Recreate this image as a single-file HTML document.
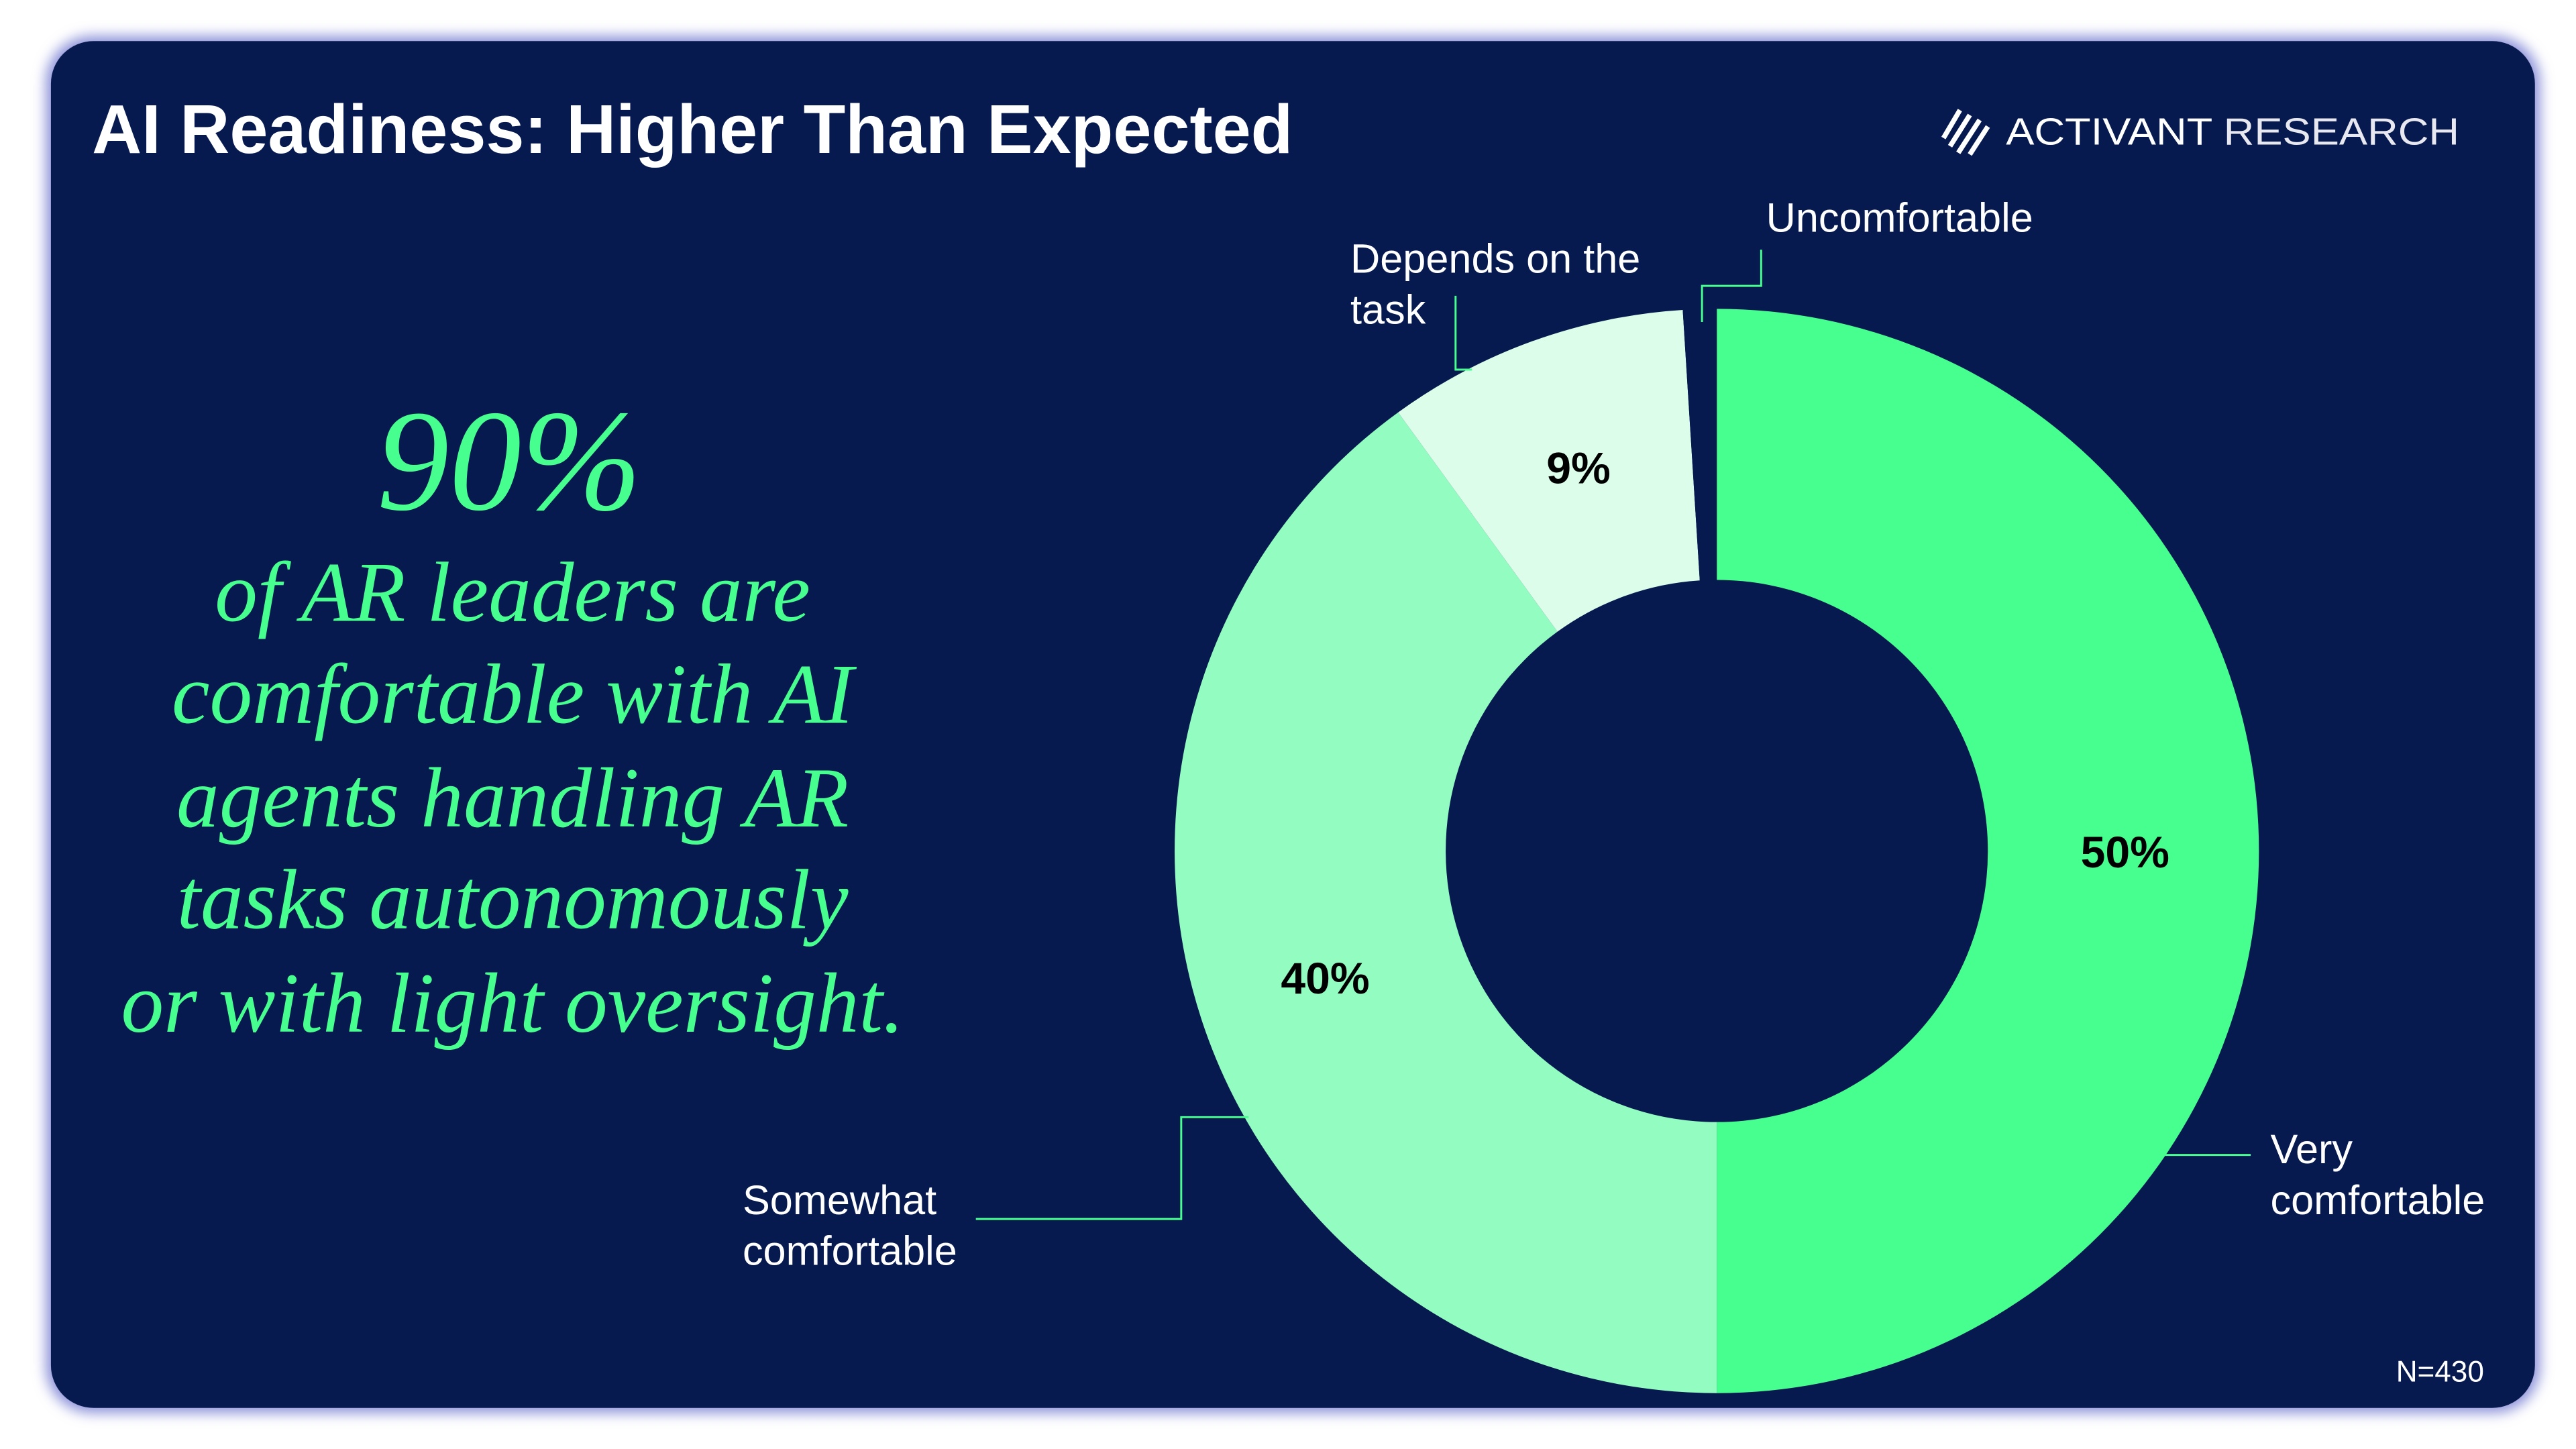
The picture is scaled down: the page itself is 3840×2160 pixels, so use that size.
<!DOCTYPE html>
<html><head><meta charset="utf-8">
<style>
html,body{margin:0;padding:0;background:#fff;width:3840px;height:2160px;overflow:hidden}
svg{display:block}
</style></head>
<body>
<svg id="chart" width="3840" height="2160" viewBox="0 0 1568 882" xmlns="http://www.w3.org/2000/svg">
<defs>
<filter id="glow" x="-5%" y="-5%" width="110%" height="110%"><feGaussianBlur stdDeviation="4"/></filter>
</defs>
<rect x="28" y="22" width="1518" height="838" rx="28" fill="#8a90d8" filter="url(#glow)"/>
<rect x="31" y="25" width="1512" height="832" rx="26" fill="#071a50"/>
<text x="56" y="93" font-family="Liberation Sans, sans-serif" font-weight="bold" font-size="42" fill="#fff" textLength="731" lengthAdjust="spacingAndGlyphs">AI Readiness: Higher Than Expected</text>
<g>
<g stroke="#fff" stroke-width="3">
<line x1="1183" y1="84" x2="1193" y2="67"/><line x1="1187" y1="89" x2="1199" y2="70"/><line x1="1192" y1="93" x2="1205" y2="73"/><line x1="1199" y1="94" x2="1210" y2="77"/>
</g>
<text x="1221" y="88" font-family="Liberation Sans, sans-serif" font-size="23" fill="#fff" textLength="276" lengthAdjust="spacingAndGlyphs">ACTIVANT <tspan fill="#e8e8f0">RESEARCH</tspan></text>
</g>
<text x="310" y="310" text-anchor="middle" font-family="Liberation Serif, serif" font-style="italic" font-size="88" fill="#47ff8f">90%</text>
<g font-family="Liberation Serif, serif" font-style="italic" font-size="52" fill="#47ff8f" text-anchor="middle">
<text x="312" y="378">of AR leaders are</text>
<text x="312" y="440">comfortable with AI</text>
<text x="312" y="503">agents handling AR</text>
<text x="312" y="565">tasks autonomously</text>
<text x="312" y="628">or with light oversight.</text>
</g>
<g id="donut"></g>
<g stroke="#47ff8f" stroke-width="1.2" fill="none">
<polyline points="1318,703 1370,703"/>
<polyline points="594,742 719,742 719,680 760,680"/>
<polyline points="886,180 886,225 896,225"/>
<polyline points="1072,152 1072,174 1036,174 1036,196"/>
</g>
<g font-family="Liberation Sans, sans-serif" font-size="25" fill="#fff">
<text x="1382" y="708">Very<tspan x="1382" dy="31">comfortable</tspan></text>
<text x="452" y="739">Somewhat<tspan x="452" dy="31">comfortable</tspan></text>
<text x="822" y="166">Depends on the<tspan x="822" dy="31">task</tspan></text>
<text x="1075" y="141">Uncomfortable</text>
</g>
<text x="1512" y="841" text-anchor="end" font-family="Liberation Sans, sans-serif" font-size="18" fill="#fff">N=430</text>
</svg>
<script>
const categories = ["Very comfortable", "Somewhat comfortable", "Depends on the task", "Uncomfortable"];
const values = [50, 40, 9, 1];
const valueLabels = ["50%", "40%", "9%", ""];
const sliceColors = ["#47ff8f", "#93fcc0", "#dcfde9", "#071a50"];

const cx = 1045, cy = 518, R = 330, r = 165;
const NS = "http://www.w3.org/2000/svg";
const g = document.getElementById("donut");
const total = values.reduce((a, b) => a + b, 0);
function pt(rad, a) { return [cx + rad * Math.sin(a), cy - rad * Math.cos(a)]; }
let acc = 0;
values.forEach((v, i) => {
  const a0 = acc / total * 2 * Math.PI;
  acc += v;
  const a1 = acc / total * 2 * Math.PI;
  const large = (a1 - a0) > Math.PI ? 1 : 0;
  const p0 = pt(R, a0), p1 = pt(R, a1), q1 = pt(r, a1), q0 = pt(r, a0);
  const d = `M${p0[0]},${p0[1]} A${R},${R} 0 ${large} 1 ${p1[0]},${p1[1]} L${q1[0]},${q1[1]} A${r},${r} 0 ${large} 0 ${q0[0]},${q0[1]} Z`;
  const path = document.createElementNS(NS, "path");
  path.setAttribute("d", d);
  path.setAttribute("fill", sliceColors[i]);
  
  
  g.appendChild(path);
  if (valueLabels[i]) {
    const am = (a0 + a1) / 2;
    const lp = pt((R + r) / 2 + 1, am);
    const t = document.createElementNS(NS, "text");
    t.setAttribute("x", lp[0] + (i === 1 ? -2 : 0));
    t.setAttribute("y", lp[1] + 10);
    t.setAttribute("text-anchor", "middle");
    t.setAttribute("font-family", "Liberation Sans, sans-serif");
    t.setAttribute("font-weight", "bold");
    t.setAttribute("font-size", "27");
    t.setAttribute("fill", "#000");
    t.textContent = valueLabels[i];
    
    
    g.appendChild(t);
  }
});
</script>
</body></html>
